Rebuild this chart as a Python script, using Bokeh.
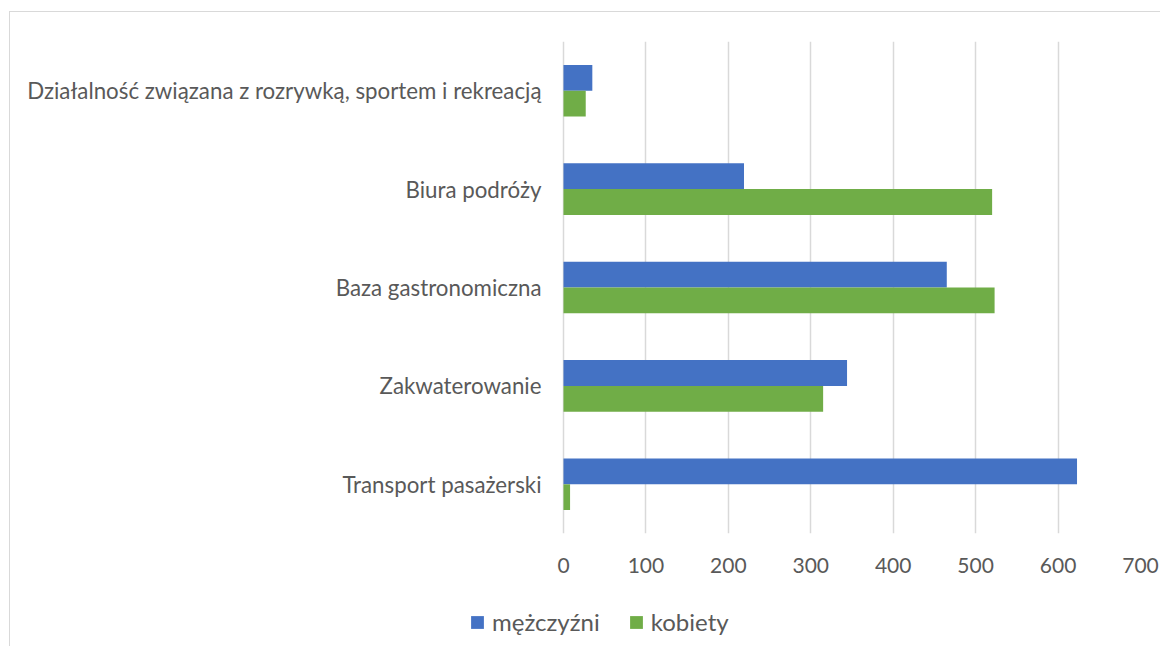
from bokeh.plotting import figure
from bokeh.models import ColumnDataSource, FactorRange, Range1d, FixedTicker, Legend, LegendItem
from bokeh.layouts import column
from bokeh.transform import dodge
from bokeh.embed import file_html
from bokeh.resources import INLINE

categories = [
    "Transport pasażerski",
    "Zakwaterowanie",
    "Baza gastronomiczna",
    "Biura podróży",
    "Działalność związana z rozrywką, sportem i rekreacją",
]
men = [623, 344, 465, 219, 35]
women = [8, 315, 523, 520, 27]
series_names = ["mężczyźni", "kobiety"]
series_colors = ["#4472C4", "#70AD47"]
x_ticks = [0, 100, 200, 300, 400, 500, 600, 700]

FONT = "Lato"
TXT = "#595959"
GRID = "#d9d9d9"

src = ColumnDataSource(dict(cat=categories, men=men, women=women))

# the frame begins a little left of the value 0, so the legend strip (aligned on it) can start where the reference's does
X_START = -114.0
BW = 0.262


def add_bars(fig, visible=True):
    r1 = fig.hbar(y=dodge("cat", 0.131, range=fig.y_range), right="men", left=0, height=BW,
                  source=src, color=series_colors[0], line_color=None, visible=visible)
    r2 = fig.hbar(y=dodge("cat", -0.131, range=fig.y_range), right="women", left=0, height=BW,
                  source=src, color=series_colors[1], line_color=None, visible=visible)
    return [r1, r2]


p = figure(
    width=1150, height=576,
    y_range=FactorRange(*categories),
    x_range=Range1d(X_START, 700),
    output_backend="svg", toolbar_location=None,
    min_border_left=459, min_border_right=20, min_border_top=29, min_border_bottom=55,
)
p.outline_line_color = None
add_bars(p)

p.xaxis.ticker = FixedTicker(ticks=x_ticks)
p.xaxis.axis_line_color = None
p.xaxis.major_tick_line_color = None
p.xaxis.minor_tick_line_color = None
p.xaxis.major_label_text_font = FONT
p.xaxis.major_label_text_font_size = "21px"
p.xaxis.major_label_text_color = TXT
p.xaxis.major_label_standoff = 18

p.yaxis.axis_line_color = None
p.yaxis.major_tick_line_color = None
p.yaxis.minor_tick_line_color = None
p.yaxis.major_tick_out = 0
p.yaxis.major_label_text_font = FONT
p.yaxis.major_label_text_font_size = "22.3px"
p.yaxis.major_label_text_color = TXT
p.yaxis.major_label_standoff = -72

p.xgrid.grid_line_color = GRID
p.xgrid.grid_line_width = 1.5
p.ygrid.grid_line_color = None

# legend strip below the chart; its frame is aligned with the chart's frame
lg = figure(
    width=1150, height=58,
    y_range=FactorRange(*categories),
    x_range=Range1d(X_START, 700),
    output_backend="svg", toolbar_location=None,
    x_axis_location=None, y_axis_location=None,
    min_border_left=459, min_border_right=20, min_border_top=0, min_border_bottom=0,
)
lg.outline_line_color = None
lg.grid.grid_line_color = None
proxies = add_bars(lg, visible=False)

legend = Legend(
    items=[LegendItem(label=n, renderers=[r]) for n, r in zip(series_names, proxies)],
    location=(0, 10), orientation="horizontal",
    label_text_font=FONT, label_text_font_size="24px", label_text_color=TXT,
    glyph_width=16, glyph_height=16, label_standoff=7, spacing=28,
    padding=0, margin=0, border_line_color=None, background_fill_alpha=0,
    inactive_fill_alpha=0,
)
lg.add_layout(legend, "center")

layout = column(p, lg, spacing=0)
layout.styles = {"border-top": "1px solid #d9d9d9", "border-left": "1px solid #d9d9d9",
                 "margin-top": "11px", "margin-left": "9px"}

open("out.html", "w").write(file_html(layout, INLINE))
